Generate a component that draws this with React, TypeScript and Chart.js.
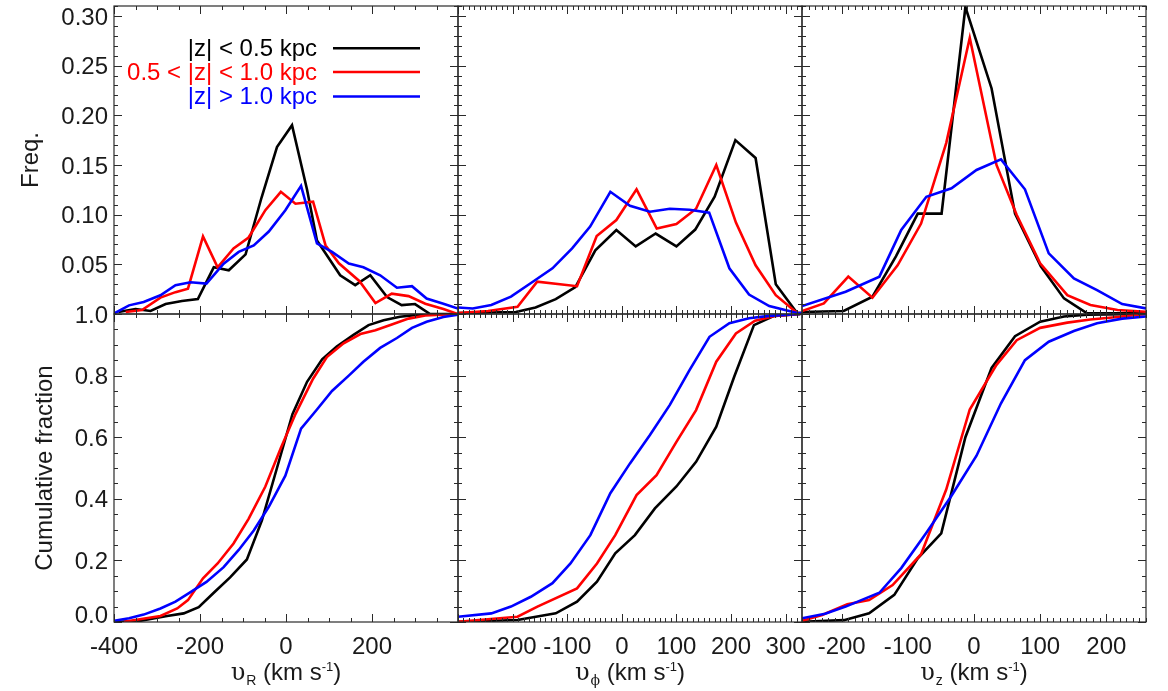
import React, { useEffect, useRef } from 'react';
import { Chart, registerables } from 'chart.js';
Chart.register(...registerables);

// ---------------- data: velocity distributions ----------------
// vR, frequency
const VR_FREQ_IN_X = [-390, -350, -315, -280, -242, -205, -168, -133, -94, -57, -21, 14, 49, 72, 126, 161, 196, 235, 269, 300, 335, 400];
const VR_FREQ_IN_Y = [0.002, 0.005, 0.003, 0.010, 0.013, 0.015, 0.047, 0.044, 0.060, 0.117, 0.168, 0.190, 0.125, 0.074, 0.039, 0.029, 0.039, 0.017, 0.009, 0.010, 0.0, 0.0];
const VR_FREQ_MID_X = [-373, -335, -292, -257, -228, -193, -159, -122, -87, -48, -12, 22, 63, 92, 123, 171, 208, 246, 285, 324, 366, 400];
const VR_FREQ_MID_Y = [0.002, 0.004, 0.0165, 0.022, 0.0255, 0.078, 0.047, 0.066, 0.077, 0.1045, 0.123, 0.111, 0.113, 0.069, 0.051, 0.033, 0.011, 0.0205, 0.018, 0.0104, 0.005, 0.0];
const VR_FREQ_OUT_X = [-400, -365, -331, -292, -257, -222, -185, -145, -110, -75, -40, -1.5, 35, 72, 107, 146, 180, 219, 258, 293, 327, 366, 400];
const VR_FREQ_OUT_Y = [0.0005, 0.0087, 0.012, 0.0188, 0.029, 0.032, 0.0306, 0.0507, 0.0625, 0.069, 0.083, 0.1045, 0.129, 0.071, 0.0625, 0.0507, 0.047, 0.039, 0.0265, 0.028, 0.0155, 0.0104, 0.0054];

// vphi, frequency
const VPHI_FREQ_IN_X = [-300, -194, -158, -121, -85, -48.5, -10, 25.5, 62, 100, 134.5, 170, 208, 245, 282, 321, 330];
const VPHI_FREQ_IN_Y = [0.001, 0.002, 0.0066, 0.015, 0.027, 0.064, 0.0846, 0.068, 0.081, 0.068, 0.085, 0.118, 0.175, 0.157, 0.030, 0.001, 0.001];
const VPHI_FREQ_MID_X = [-300, -245, -191, -155, -82, -46, -10, 27, 64, 100, 136, 173, 209, 245, 282, 321, 330];
const VPHI_FREQ_MID_Y = [0.001, 0.003, 0.0073, 0.0325, 0.028, 0.0785, 0.0946, 0.1255, 0.086, 0.0906, 0.106, 0.150, 0.092, 0.049, 0.019, 0.001, 0.001];
const VPHI_FREQ_OUT_X = [-300, -273, -239, -203, -167, -127, -91, -58, -21, 15, 51.5, 88, 124, 160, 197, 233, 270, 321, 330];
const VPHI_FREQ_OUT_Y = [0.0065, 0.0056, 0.009, 0.0175, 0.031, 0.046, 0.066, 0.088, 0.123, 0.109, 0.103, 0.106, 0.105, 0.102, 0.046, 0.0195, 0.008, 0.001, 0.001];

// vz, frequency
const VZ_FREQ_IN_X = [-260, -197, -153.5, -118, -85, -49, -13, 26.6, 62, 101, 136, 171, 260];
const VZ_FREQ_IN_Y = [0.002, 0.003, 0.0174, 0.058, 0.101, 0.101, 0.309, 0.227, 0.101, 0.048, 0.0157, 0.0006, 0.0006];
const VZ_FREQ_MID_X = [-260, -227, -190, -153.5, -115.5, -80, -42, -6.4, 34, 64.6, 100, 141, 176, 217, 260];
const VZ_FREQ_MID_Y = [0.003, 0.0107, 0.0376, 0.0164, 0.049, 0.091, 0.172, 0.278, 0.150, 0.0997, 0.051, 0.019, 0.009, 0.004, 0.0023];
const VZ_FREQ_OUT_X = [-260, -194, -143, -110, -72, -34, 3.8, 40.8, 77, 113, 151, 186, 224, 260];
const VZ_FREQ_OUT_Y = [0.008, 0.0224, 0.0376, 0.0846, 0.118, 0.1265, 0.145, 0.1556, 0.1255, 0.061, 0.0358, 0.024, 0.010, 0.0056];

// vR, cumulative
const VR_CUM_IN_X = [-400, -338, -276.5, -238, -203, -168, -130, -91, -56, -21, 15, 49, 84, 118, 157, 192, 227, 265, 304, 343, 400];
const VR_CUM_IN_Y = [0.0, 0.004, 0.0195, 0.028, 0.048, 0.095, 0.145, 0.203, 0.33, 0.50, 0.675, 0.78, 0.853, 0.894, 0.932, 0.964, 0.98, 0.991, 0.997, 1.0, 1.0];
const VR_CUM_MID_X = [-377, -292, -253, -228, -193, -159, -122, -87, -48, -12, 22, 63, 95, 134, 173, 208, 246, 285, 324, 400];
const VR_CUM_MID_Y = [0.001, 0.0195, 0.044, 0.071, 0.142, 0.19, 0.255, 0.335, 0.44, 0.565, 0.675, 0.79, 0.86, 0.905, 0.935, 0.947, 0.966, 0.985, 0.995, 1.0];
const VR_CUM_OUT_X = [-400, -365, -331, -292, -257, -222, -185, -145, -110, -75, -40, -1.5, 35, 72, 107, 146, 180, 219, 258, 293, 327, 366, 400];
const VR_CUM_OUT_Y = [0.004, 0.012, 0.024, 0.044, 0.066, 0.097, 0.130, 0.178, 0.234, 0.297, 0.374, 0.475, 0.628, 0.69, 0.75, 0.80, 0.845, 0.89, 0.922, 0.955, 0.975, 0.99, 0.998];

// vphi, cumulative
const VPHI_CUM_IN_X = [-300, -191, -121, -82, -45.5, -12, 24, 60.6, 100, 136, 173, 206, 242, 279, 327];
const VPHI_CUM_IN_Y = [0.001, 0.0065, 0.028, 0.066, 0.131, 0.223, 0.282, 0.369, 0.44, 0.52, 0.634, 0.797, 0.964, 0.994, 1.0];
const VPHI_CUM_MID_X = [-300, -191, -154.5, -82, -45.5, -12, 27, 63.6, 100, 136, 173, 209, 244, 282, 327];
const VPHI_CUM_MID_Y = [0.001, 0.017, 0.05, 0.109, 0.19, 0.282, 0.412, 0.477, 0.585, 0.688, 0.845, 0.937, 0.978, 0.994, 1.0];
const VPHI_CUM_OUT_X = [-300, -239, -203, -166.6, -127, -94, -57.6, -21, 15, 51.5, 88, 124, 160.6, 197, 233, 270, 327];
const VPHI_CUM_OUT_Y = [0.017, 0.028, 0.05, 0.082, 0.126, 0.19, 0.282, 0.418, 0.515, 0.607, 0.705, 0.818, 0.926, 0.97, 0.986, 0.994, 1.0];

// vz, cumulative
const VZ_CUM_IN_X = [-260, -196.6, -158.6, -120.5, -85, -49.5, -13, 26.6, 62, 100, 136, 171, 260];
const VZ_CUM_IN_Y = [0.001, 0.006, 0.028, 0.088, 0.207, 0.288, 0.60, 0.825, 0.928, 0.975, 0.992, 0.998, 1.0];
const VZ_CUM_MID_X = [-260, -229.6, -191.5, -158.6, -123, -80, -42, -6.4, 34, 64.6, 100, 141, 176, 217, 260];
const VZ_CUM_MID_Y = [0.004, 0.023, 0.058, 0.071, 0.12, 0.22, 0.43, 0.69, 0.835, 0.915, 0.955, 0.972, 0.982, 0.99, 1.0];
const VZ_CUM_OUT_X = [-260, -225, -194, -143, -110, -72, -34, 3.8, 40.8, 77, 113, 151, 186, 224, 260];
const VZ_CUM_OUT_Y = [0.012, 0.027, 0.05, 0.095, 0.175, 0.29, 0.41, 0.54, 0.71, 0.85, 0.91, 0.945, 0.97, 0.985, 0.992];

// ---------------- labels and ticks ----------------
const SERIES_LABELS = ['|z| < 0.5 kpc', '0.5 < |z| < 1.0 kpc', '|z| > 1.0 kpc'];
const SERIES_COLORS = ['#000000', '#ff0000', '#0000ff'];
const VR_TICK_LABELS = [-400, -200, 0, 200];
const VPHI_TICK_LABELS = [-200, -100, 0, 100, 200, 300];
const VZ_TICK_LABELS = [-200, -100, 0, 100, 200];
const FREQ_TICK_LABELS = [0.05, 0.10, 0.15, 0.20, 0.25, 0.30];
const CUM_TICK_LABELS = [0.0, 0.2, 0.4, 0.6, 0.8, 1.0];
const FREQ_TITLE = 'Freq.';
const CUM_TITLE = 'Cumulative fraction';
const X_TITLE_SUBS = ['R', 'ϕ', 'z'];

// ---------------- layout ----------------
const W = 1168;
const H = 691;
const COLS = [114, 458, 802, 1146];
const ROWS = [6, 314, 622];
const FONT = '"Liberation Sans", Arial, Helvetica, sans-serif';
const GREEK_FONT = '"DejaVu Serif", "Liberation Serif", serif';
const AXIS_COLOR = '#2a2a2a';

type Series = { x: number[]; y: number[] };
type Panel = {
  col: number; row: number;
  xMin: number; xMax: number; xMajor: number; xMinor: number;
  yMin: number; yMax: number; yMajor: number; yMinor: number;
  xLabels?: number[]; yLabels?: number[]; yDigits: number;
  yTitle?: string; yTitleX?: number; xTitleSub?: string;
  legend?: boolean;
  series: Series[];
};

const FREQ_Y = { yMin: 0, yMax: 0.31, yMajor: 0.05, yMinor: 0.01, yDigits: 2 };
const CUM_Y = { yMin: 0, yMax: 1.0, yMajor: 0.2, yMinor: 0.05, yDigits: 1 };
const VR_X = { xMin: -400, xMax: 400, xMajor: 200, xMinor: 50 };
const VPHI_X = { xMin: -300, xMax: 330, xMajor: 100, xMinor: 10 };
const VZ_X = { xMin: -260, xMax: 260, xMajor: 100, xMinor: 10 };

const PANELS: Panel[] = [
  { col: 0, row: 0, ...VR_X, ...FREQ_Y, yLabels: FREQ_TICK_LABELS, yTitle: FREQ_TITLE, yTitleX: 38, legend: true,
    series: [{ x: VR_FREQ_IN_X, y: VR_FREQ_IN_Y }, { x: VR_FREQ_MID_X, y: VR_FREQ_MID_Y }, { x: VR_FREQ_OUT_X, y: VR_FREQ_OUT_Y }] },
  { col: 1, row: 0, ...VPHI_X, ...FREQ_Y,
    series: [{ x: VPHI_FREQ_IN_X, y: VPHI_FREQ_IN_Y }, { x: VPHI_FREQ_MID_X, y: VPHI_FREQ_MID_Y }, { x: VPHI_FREQ_OUT_X, y: VPHI_FREQ_OUT_Y }] },
  { col: 2, row: 0, ...VZ_X, ...FREQ_Y,
    series: [{ x: VZ_FREQ_IN_X, y: VZ_FREQ_IN_Y }, { x: VZ_FREQ_MID_X, y: VZ_FREQ_MID_Y }, { x: VZ_FREQ_OUT_X, y: VZ_FREQ_OUT_Y }] },
  { col: 0, row: 1, ...VR_X, ...CUM_Y, yLabels: CUM_TICK_LABELS, yTitle: CUM_TITLE, yTitleX: 52, xLabels: VR_TICK_LABELS, xTitleSub: X_TITLE_SUBS[0],
    series: [{ x: VR_CUM_IN_X, y: VR_CUM_IN_Y }, { x: VR_CUM_MID_X, y: VR_CUM_MID_Y }, { x: VR_CUM_OUT_X, y: VR_CUM_OUT_Y }] },
  { col: 1, row: 1, ...VPHI_X, ...CUM_Y, xLabels: VPHI_TICK_LABELS, xTitleSub: X_TITLE_SUBS[1],
    series: [{ x: VPHI_CUM_IN_X, y: VPHI_CUM_IN_Y }, { x: VPHI_CUM_MID_X, y: VPHI_CUM_MID_Y }, { x: VPHI_CUM_OUT_X, y: VPHI_CUM_OUT_Y }] },
  { col: 2, row: 1, ...VZ_X, ...CUM_Y, xLabels: VZ_TICK_LABELS, xTitleSub: X_TITLE_SUBS[2],
    series: [{ x: VZ_CUM_IN_X, y: VZ_CUM_IN_Y }, { x: VZ_CUM_MID_X, y: VZ_CUM_MID_Y }, { x: VZ_CUM_OUT_X, y: VZ_CUM_OUT_Y }] },
];

function tickValues(min: number, max: number, step: number): number[] {
  const out: number[] = [];
  const k0 = Math.ceil(min / step - 1e-9);
  const k1 = Math.floor(max / step + 1e-9);
  for (let k = k0; k <= k1; k++) out.push(+(k * step).toFixed(6));
  return out;
}
function isMajor(v: number, major: number): boolean {
  const r = v / major;
  return Math.abs(r - Math.round(r)) < 1e-6;
}

type Part = { t: string; s: number; dy: number; f?: string; gap?: number };
function drawRich(ctx: CanvasRenderingContext2D, parts: Part[], cx: number, baseline: number) {
  let total = 0;
  const widths = parts.map((p) => {
    ctx.font = `${p.s}px ${p.f || FONT}`;
    const w = ctx.measureText(p.t).width + (p.gap || 0);
    total += w;
    return w;
  });
  let x = cx - total / 2;
  ctx.textAlign = 'left';
  ctx.textBaseline = 'alphabetic';
  parts.forEach((p, i) => {
    ctx.font = `${p.s}px ${p.f || FONT}`;
    ctx.fillText(p.t, x, baseline + p.dy);
    x += widths[i];
  });
}

function makePlugin(p: Panel) {
  return {
    id: 'idlAxes',
    afterDatasetsDraw(chart: any) {
      const ctx: CanvasRenderingContext2D = chart.ctx;
      const xs = chart.scales.x;
      const ys = chart.scales.y;
      const { left, right, top, bottom } = chart.chartArea;
      ctx.save();
      ctx.strokeStyle = AXIS_COLOR;
      ctx.lineWidth = 1.2;
      ctx.strokeRect(left, top, right - left, bottom - top);
      ctx.lineWidth = 1;
      ctx.beginPath();
      for (const v of tickValues(p.xMin, p.xMax, p.xMinor)) {
        const px = Math.round(xs.getPixelForValue(v)) + 0.5;
        const len = isMajor(v, p.xMajor) ? 8 : 4;
        ctx.moveTo(px, bottom); ctx.lineTo(px, bottom - len);
        ctx.moveTo(px, top); ctx.lineTo(px, top + len);
      }
      for (const v of tickValues(p.yMin, p.yMax, p.yMinor)) {
        const py = Math.round(ys.getPixelForValue(v)) + 0.5;
        const len = isMajor(v, p.yMajor) ? 8 : 4;
        ctx.moveTo(left, py); ctx.lineTo(left + len, py);
        ctx.moveTo(right, py); ctx.lineTo(right - len, py);
      }
      ctx.stroke();

      ctx.fillStyle = '#1a1a1a';
      ctx.font = `24px ${FONT}`;
      if (p.yLabels) {
        ctx.textAlign = 'right';
        ctx.textBaseline = 'alphabetic';
        for (const v of p.yLabels) {
          let cy = ys.getPixelForValue(v);
          cy = Math.min(cy, bottom - 8);
          ctx.fillText(v.toFixed(p.yDigits), left - 6, cy + 8.6);
        }
      }
      if (p.xLabels) {
        ctx.textAlign = 'center';
        ctx.textBaseline = 'alphabetic';
        for (const v of p.xLabels) {
          ctx.fillText(String(v), xs.getPixelForValue(v), 654);
        }
      }
      if (p.yTitle) {
        ctx.save();
        ctx.translate(p.yTitleX || 40, (top + bottom) / 2);
        ctx.rotate(-Math.PI / 2);
        ctx.textAlign = 'center';
        ctx.textBaseline = 'alphabetic';
        ctx.font = `24px ${FONT}`;
        ctx.fillText(p.yTitle, 0, 0);
        ctx.restore();
      }
      if (p.xTitleSub) {
        drawRich(ctx, [
          { t: 'υ', s: 24, dy: 0, f: GREEK_FONT, gap: 1 },
          { t: p.xTitleSub, s: 14, dy: 5, f: p.xTitleSub === 'ϕ' ? GREEK_FONT : FONT },
          { t: ' (km s', s: 24, dy: 0 },
          { t: '-1', s: 13, dy: -9 },
          { t: ')', s: 24, dy: 0 },
        ], (left + right) / 2, 680);
      }
      if (p.legend) {
        const lineY = [48.3, 72, 96.5];
        ctx.font = `24px ${FONT}`;
        ctx.textAlign = 'right';
        ctx.textBaseline = 'alphabetic';
        SERIES_LABELS.forEach((lab, i) => {
          ctx.fillStyle = SERIES_COLORS[i];
          ctx.fillText(lab, 317, lineY[i] + 7.5);
          ctx.strokeStyle = SERIES_COLORS[i];
          ctx.lineWidth = 2.6;
          ctx.beginPath();
          ctx.moveTo(333, lineY[i]);
          ctx.lineTo(420, lineY[i]);
          ctx.stroke();
        });
      }
      ctx.restore();
    },
  };
}

function makeChart(canvas: HTMLCanvasElement, p: Panel) {
  const l = COLS[p.col], r = COLS[p.col + 1], t = ROWS[p.row], b = ROWS[p.row + 1];
  const datasets = p.series.map((s, i) => ({
    label: SERIES_LABELS[i],
    data: s.x.map((x, j) => ({ x, y: s.y[j] })),
    borderColor: SERIES_COLORS[i],
    backgroundColor: SERIES_COLORS[i],
    borderWidth: 2.6,
    pointRadius: 0,
    tension: 0,
    fill: false,
    order: 3 - i,
  }));
  return new Chart(canvas, {
    type: 'line',
    data: { datasets },
    options: {
      animation: false,
      responsive: false,
      maintainAspectRatio: false,
      events: [],
      layout: { padding: { left: l, top: t, right: W - r, bottom: H - b } },
      plugins: { legend: { display: false }, tooltip: { enabled: false } },
      scales: {
        x: { type: 'linear', min: p.xMin, max: p.xMax, display: false },
        y: { type: 'linear', min: p.yMin, max: p.yMax, display: false },
      },
    },
    plugins: [makePlugin(p)],
  } as any);
}

export default function App() {
  const refs = useRef<(HTMLCanvasElement | null)[]>([]);
  useEffect(() => {
    const charts = PANELS.map((p, i) => makeChart(refs.current[i] as HTMLCanvasElement, p));
    return () => charts.forEach((c) => c.destroy());
  }, []);
  return (
    <div style={{ position: 'absolute', left: 0, top: 0, width: W, height: H, background: '#ffffff', overflow: 'hidden' }}>
      {PANELS.map((_, i) => (
        <canvas
          key={i}
          ref={(el) => { refs.current[i] = el; }}
          width={W}
          height={H}
          style={{ position: 'absolute', left: 0, top: 0, width: W, height: H }}
        />
      ))}
    </div>
  );
}
